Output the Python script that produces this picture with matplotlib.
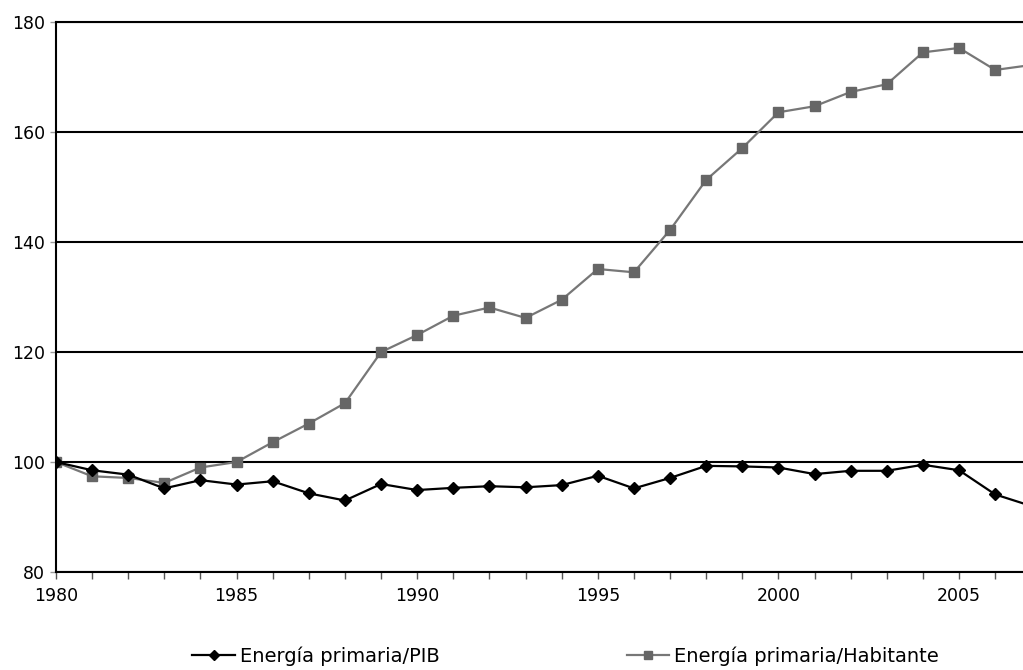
import matplotlib
matplotlib.use("Agg")
import matplotlib.pyplot as plt
from matplotlib.ticker import MultipleLocator

years = list(range(1980, 2008))
pib = [100, 98.5, 97.7, 95.2, 96.7, 95.9, 96.5, 94.3, 93.0, 96.0,
       94.9, 95.3, 95.6, 95.4, 95.8, 97.5, 95.2, 97.1, 99.3, 99.2,
       99.0, 97.8, 98.4, 98.4, 99.5, 98.5, 94.1, 92.0]
habitante = [100, 97.4, 97.1, 96.2, 99.0, 100, 103.6, 107.0, 110.7, 120.0,
             123.1, 126.6, 128.1, 126.2, 129.5, 135.1, 134.5, 142.2, 151.3, 157.1,
             163.6, 164.7, 167.3, 168.7, 174.5, 175.3, 171.3, 172.2]
labels = ["Energía primaria/PIB", "Energía primaria/Habitante"]

plt.rcParams["font.family"] = ["DejaVu Sans"]

fig = plt.figure(figsize=(10.23, 6.70), dpi=100)
ax = fig.add_axes([0.0547, 0.1463, 0.9453, 0.8207])

ax.plot(years, pib, color="black", linewidth=1.6, marker="D", markersize=6,
        label=labels[0], zorder=4)
ax.plot(years, habitante, color="#777777", linewidth=1.6, marker="s", markersize=7,
        markerfacecolor="#666666", markeredgecolor="#666666",
        label=labels[1], zorder=3)

ax.set_xlim(1980, 2006.77)
ax.set_ylim(80, 180)
ax.set_yticks([80, 100, 120, 140, 160, 180])
ax.set_xticks([1980, 1985, 1990, 1995, 2000, 2005])
ax.xaxis.set_minor_locator(MultipleLocator(1))
ax.grid(axis="y", color="black", linewidth=1.5, zorder=1)
ax.set_axisbelow(True)

ax.spines["right"].set_visible(False)
for side in ["left", "bottom", "top"]:
    ax.spines[side].set_linewidth(1.5)

ax.tick_params(axis="x", which="both", direction="out", length=5, width=1,
               color="#555555", labelsize=12.5, pad=6)
ax.tick_params(axis="y", direction="out", length=4, width=1, color="#999999",
               labelsize=12.5, pad=4)

fig.legend(loc="center", bbox_to_anchor=(0.553, 14 / 670), ncol=2, frameon=False,
           fontsize=14, handlelength=2.2, handletextpad=0.25, columnspacing=9.6,
           markerscale=0.9, borderaxespad=0)

fig.savefig("out.png", dpi=100)
